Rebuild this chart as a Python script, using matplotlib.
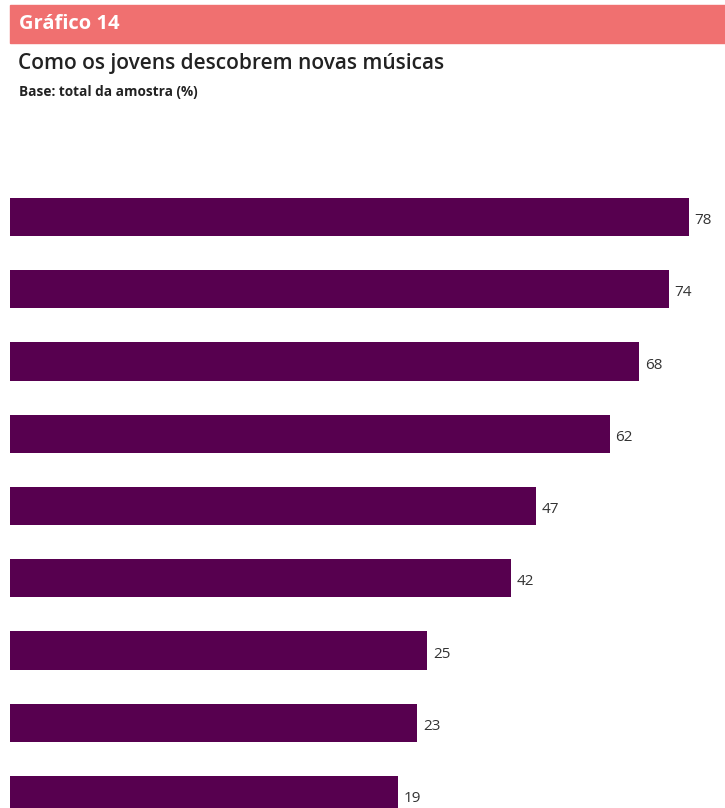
import numpy as np
import matplotlib.pyplot as plt
from matplotlib.patches import Rectangle

# Percentages, top to bottom
values = [78, 74, 68, 62, 47, 42, 25, 23, 19]
value_labels = [str(v) for v in values]

header = "Gráfico 14"
title = "Como os jovens descobrem novas músicas"
subtitle = "Base: total da amostra (%)"

BAR_COLOR = "#57004F"
HEADER_COLOR = "#F07070"
TEXT_COLOR = "#222222"
BASE = -59.6  # value at the left edge of the bars

plt.rcParams['font.family'] = ['Open Sans', 'DejaVu Sans']

W, H = 725, 808
fig = plt.figure(figsize=(W / 100, H / 100), dpi=100)

# header band
fig.patches.append(Rectangle((10 / W, 1 - 43 / H), 715 / W, 38 / H,
                             transform=fig.transFigure, color=HEADER_COLOR, zorder=0))
fig.text(19 / W, 1 - 24 / H, header, color="white", fontsize=14.5, fontweight="bold",
         va="center", ha="left")
fig.text(18 / W, 1 - 63 / H, title, color=TEXT_COLOR, fontsize=15, fontweight="semibold",
         va="center", ha="left")
fig.text(19 / W, 1 - 92 / H, subtitle, color=TEXT_COLOR, fontsize=9.8, fontweight="bold",
         va="center", ha="left")

# bar area
top_px = 150
ax = fig.add_axes([10 / W, 0, 715 / W, (H - top_px) / H])
y = np.arange(len(values))
vals = np.array(values, dtype=float)
ax.barh(y, vals - BASE, left=BASE, height=0.53, color=BAR_COLOR)
for yi, v, lab in zip(y, vals, value_labels):
    ax.text(v + 1.2, yi + 0.05, lab, va="center", ha="left", fontsize=11, color="#333333")

spacing = (795 - 217) / 8
ax.set_xlim(BASE, 85.4)
ax.set_ylim((H - 217) / spacing, -(217 - top_px) / spacing)
ax.axis("off")

fig.savefig("out.png", dpi=100)
